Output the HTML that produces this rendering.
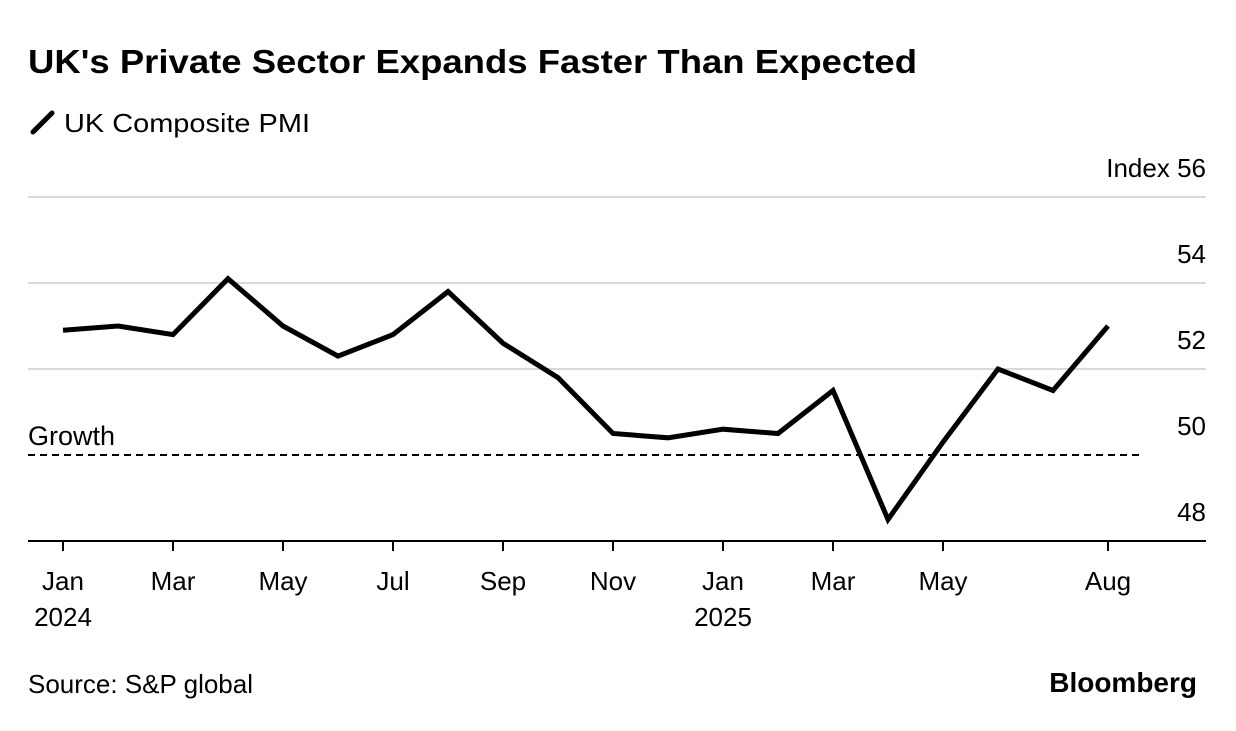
<!DOCTYPE html>
<html><head><meta charset="utf-8"><style>
body{margin:0;background:#fff;font-family:"Liberation Sans",sans-serif;}
svg text{font-family:"Liberation Sans",sans-serif;}
</style></head><body>
<svg width="1236" height="726" viewBox="0 0 1236 726">
<text x="28" y="73" font-size="33" font-weight="bold" fill="#000" textLength="889" lengthAdjust="spacingAndGlyphs">UK's Private Sector Expands Faster Than Expected</text>
<g>
<line x1="33" y1="132" x2="52" y2="113" stroke="#000" stroke-width="5" stroke-linecap="round"/>
<text x="64" y="132" font-size="26" fill="#000" textLength="246" lengthAdjust="spacingAndGlyphs">UK Composite PMI</text>
</g>
<g id="grid"></g>
<g id="axis"></g>
<g id="series"></g>
<text x="28" y="445" font-size="27" fill="#000">Growth</text>
<text x="28" y="693" font-size="26" fill="#000">Source: S&amp;P global</text>
<text x="1197" y="692" font-size="28" font-weight="bold" fill="#000" text-anchor="end">Bloomberg</text>
</svg>
<script>
const months = ["2024-01","2024-02","2024-03","2024-04","2024-05","2024-06","2024-07","2024-08","2024-09","2024-10","2024-11","2024-12","2025-01","2025-02","2025-03","2025-04","2025-05","2025-06","2025-07","2025-08"];
const pmiValues = [52.9,53.0,52.8,54.1,53.0,52.3,52.8,53.8,52.6,51.8,50.5,50.4,50.6,50.5,51.5,48.5,50.3,52.0,51.5,53.0];
const yTicks = [48,50,52,54,56];
const xTickIndex = [0,2,4,6,8,10,12,14,16,19];
const xTickLabels = ["Jan","Mar","May","Jul","Sep","Nov","Jan","Mar","May","Aug"];
const yearLabels = [{i:0,t:"2024"},{i:12,t:"2025"}];
const growthLevel = 50;

const NS="http://www.w3.org/2000/svg";
const x = i => 63 + i*(1108-63)/19;
const y = v => 455 - (v-50)*43;
function mk(tag, attrs, parent, text){const e=document.createElementNS(NS,tag);for(const k in attrs)e.setAttribute(k,attrs[k]);if(text!==undefined)e.textContent=text;document.getElementById(parent).appendChild(e);return e;}

yTicks.forEach(v=>{
  if(v!==48 && v!==50){
    const g=mk("line",{x1:28,x2:1206,y1:y(v),y2:y(v),stroke:"#d9d9d9","stroke-width":2},"grid");
    
    
  }
  const t=mk("text",{x:1206,y:y(v)-20,"font-size":26,"text-anchor":"end",fill:"#000"},"grid",(v===56?"Index ":"")+v);
  
  
});
const dl=mk("line",{x1:28,x2:1140,y1:y(growthLevel),y2:y(growthLevel),stroke:"#000","stroke-width":2,"stroke-dasharray":"7,5"},"grid");



const ax=mk("line",{x1:28,x2:1206,y1:541,y2:541,stroke:"#000","stroke-width":2},"axis");


xTickIndex.forEach((i,k)=>{
  const tk=mk("line",{x1:x(i),x2:x(i),y1:541,y2:551,stroke:"#000","stroke-width":2},"axis");
  
  
  const tl=mk("text",{x:x(i),y:590,"font-size":26,"text-anchor":"middle",fill:"#000"},"axis",xTickLabels[k]);
  
  
});
yearLabels.forEach(o=>{
  const yl=mk("text",{x:x(o.i),y:626,"font-size":26,"text-anchor":"middle",fill:"#000"},"axis",o.t);
  
  
});
const pts=pmiValues.map((v,i)=>x(i)+","+y(v)).join(" ");
const line=mk("polyline",{points:pts,fill:"none",stroke:"#000","stroke-width":5,"stroke-linejoin":"miter"},"series");


</script>
</body></html>
